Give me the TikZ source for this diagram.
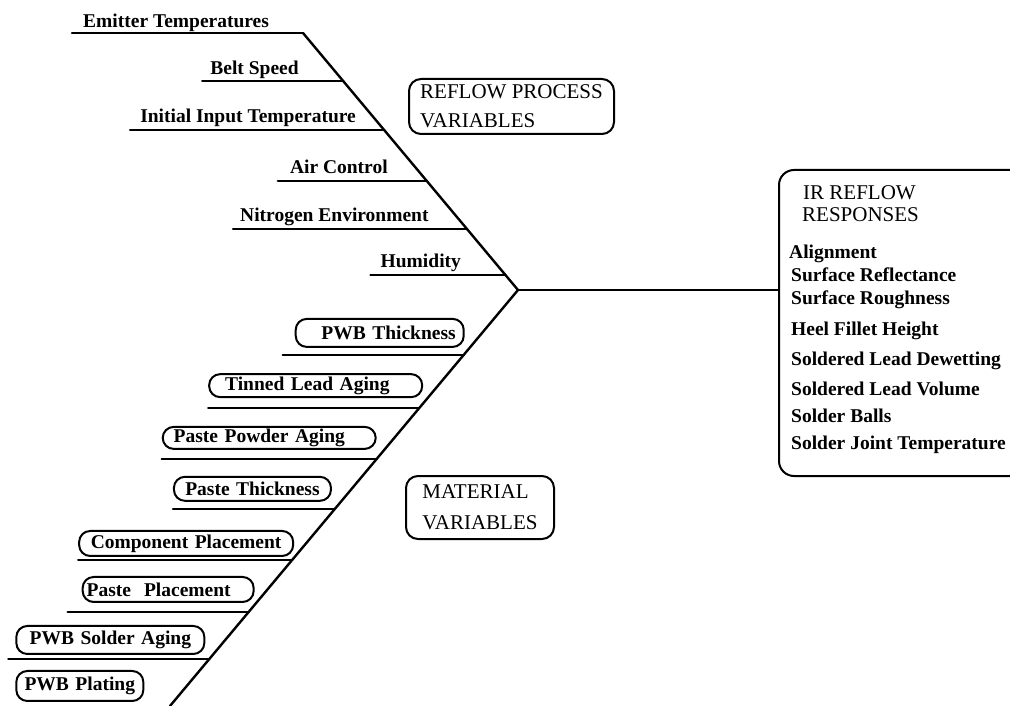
\documentclass[tikz,border=0pt]{standalone}
\usepackage{fontspec}
\setmainfont{Liberation Serif}
\usetikzlibrary{positioning}
\usetikzlibrary{calc}

\tikzset{
    bone/.style={line width=2.4pt, line cap=round},
    lbl/.style={font=\fontsize{19.5}{22}\selectfont\bfseries, inner sep=0pt, anchor=base west},
    ttl/.style={font=\fontsize{21}{24}\selectfont, inner sep=0pt, anchor=base west},
    pill/.style={draw, line width=2pt, rounded corners=11pt, font=\fontsize{19.5}{22}\selectfont\bfseries, inner ysep=0pt, minimum height=25pt},
    groupbox/.style={draw, line width=2pt, rounded corners=12pt, font=\fontsize{21}{29}\selectfont, align=left, inner sep=0pt, anchor=north west}
}

\begin{document}
\begin{tikzpicture}[x=1pt, y=-1pt]
        \useasboundingbox (0,0) rectangle (1010,706);
        \clip (0,0) rectangle (1010,706);

        % spine
        \coordinate (top) at (303,33);
        \coordinate (head) at (518,290);
        \coordinate (tail) at (170,706);
        \draw[bone] (top) -- (head) -- (tail);

        % process variables
        \coordinate (u1) at (top);
        \coordinate (u2) at ($(top)!0.187!(head)$);
        \coordinate (u3) at ($(top)!0.377!(head)$);
        \coordinate (u4) at ($(top)!0.576!(head)$);
        \coordinate (u5) at ($(top)!0.763!(head)$);
        \coordinate (u6) at ($(top)!0.942!(head)$);

        \draw[bone] (u1) -- ++(-231,0) coordinate (u1w);
        \draw[bone] (u2) -- ++(-141,0) coordinate (u2w);
        \draw[bone] (u3) -- ++(-254,0) coordinate (u3w);
        \draw[bone] (u4) -- ++(-149,0) coordinate (u4w);
        \draw[bone] (u5) -- ++(-234,0) coordinate (u5w);
        \draw[bone] (u6) -- ++(-135,0) coordinate (u6w);

        \node[lbl] (emitter) at ($(u1w)+(11,-5)$) {Emitter Temperatures};
        \node[lbl] (belt) at ($(u2w)+(8,-7)$) {Belt Speed};
        \node[lbl] (input) at ($(u3w)+(10,-7)$) {Initial Input Temperature};
        \node[lbl] (air) at ($(u4w)+(12,-8)$) {Air Control};
        \node[lbl] (nitrogen) at ($(u5w)+(7,-8)$) {Nitrogen Environment};
        \node[lbl] (humidity) at ($(u6w)+(10,-8)$) {Humidity};

        \node[groupbox, minimum width=205pt, minimum height=55pt] (reflow) at (408,78) {REFLOW PROCESS\\VARIABLES};

        % material variables
        \coordinate (l1) at ($(head)!0.156!(tail)$);
        \coordinate (l2) at ($(head)!0.284!(tail)$);
        \coordinate (l3) at ($(head)!0.406!(tail)$);
        \coordinate (l4) at ($(head)!0.526!(tail)$);
        \coordinate (l5) at ($(head)!0.649!(tail)$);
        \coordinate (l6) at ($(head)!0.774!(tail)$);
        \coordinate (l7) at ($(head)!0.887!(tail)$);

        \draw[bone] (l1) -- ++(-181,0) coordinate (l1w);
        \draw[bone] (l2) -- ++(-211,0) coordinate (l2w);
        \draw[bone] (l3) -- ++(-215,0) coordinate (l3w);
        \draw[bone] (l4) -- ++(-162,0) coordinate (l4w);
        \draw[bone] (l5) -- ++(-214,0) coordinate (l5w);
        \draw[bone] (l6) -- ++(-181,0) coordinate (l6w);
        \draw[bone] (l7) -- ++(-201,0) coordinate (l7w);

        \node[pill, minimum height=28pt, inner xsep=8pt, text width=152pt, align=right, above right=7pt and 12pt of l1w] (pwbthick) {PWB Thickness};
        \node[pill, minimum height=23pt, inner xsep=16pt, text width=181pt, align=left, above right=10pt and 0pt of l2w] (tinned) {Tinned Lead Aging};
        \node[pill, minimum height=22pt, inner xsep=11pt, text width=191pt, align=left, above right=9pt and 0pt of l3w] (powder) {Paste Powder Aging};
        \node[pill, minimum height=24pt, inner xsep=6pt, text width=145pt, align=center, above right=7pt and 0pt of l4w] (pastethick) {Paste Thickness};
        \node[pill, inner xsep=6pt, text width=202pt, align=center, above right=3pt and 0pt of l5w] (component) {Component Placement};
        \node[pill, inner xsep=4pt, text width=163pt, align=left, above right=9pt and 14pt of l6w] (pasteplace) {Paste\ \ Placement};
        \node[pill, minimum height=28pt, inner xsep=6pt, text width=176pt, align=center, above right=4pt and 7pt of l7w] (pwbsolder) {PWB Solder Aging};
        \node[pill, minimum height=30pt, inner xsep=6pt, text width=115pt, align=center, below right=15pt and 0pt of pwbsolder.south west] (plating) {PWB Plating};

        \node[groupbox, minimum width=148pt, minimum height=63pt, font=\fontsize{21}{31}\selectfont] (material) at (405,475) {MATERIAL\\VARIABLES};

        % responses
        \node[draw, line width=2pt, rounded corners=15pt, minimum width=262pt, minimum height=306pt, anchor=north west] (resp) at (778,169) {};
        \draw[bone] (head) -- (head -| resp.west);

        \node[ttl] (irreflow) at (803,200) {IR REFLOW};
        \node[ttl] (responses) at (802,222) {RESPONSES};
        \node[lbl] (align) at (789,258) {Alignment};
        \node[lbl] (reflect) at (791,281) {Surface Reflectance};
        \node[lbl] (rough) at (791,304) {Surface Roughness};
        \node[lbl] (heel) at (791,335) {Heel Fillet Height};
        \node[lbl] (dewet) at (791,365) {Soldered Lead Dewetting};
        \node[lbl] (volume) at (791,395) {Soldered Lead Volume};
        \node[lbl] (balls) at (791,422) {Solder Balls};
        \node[lbl] (jointtemp) at (791,449) {Solder Joint Temperature};

    \end{tikzpicture}
\end{document}
